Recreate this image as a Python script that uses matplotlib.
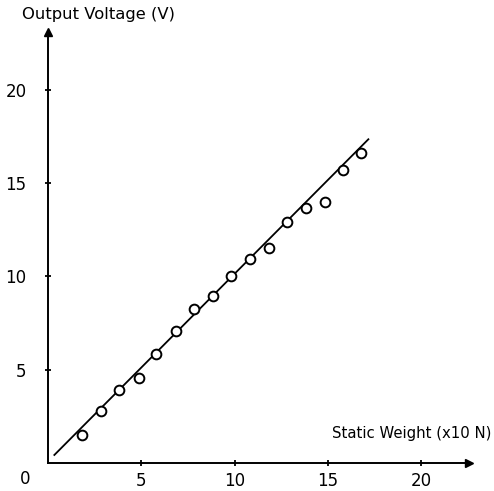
import matplotlib
matplotlib.use('Agg')
import matplotlib.pyplot as plt
import numpy as np

weight = [1.80, 2.82, 3.82, 4.87, 5.78, 6.86, 7.82, 8.85, 9.82, 10.80,
          11.82, 12.82, 13.84, 14.82, 15.78, 16.78]
voltage = [1.50, 2.80, 3.91, 4.54, 5.82, 7.05, 8.26, 8.93, 10.03, 10.94,
           11.53, 12.91, 13.67, 13.96, 15.67, 16.60]

# fitted straight line (end points)
fit_x = [0.34, 17.16]
fit_y = [0.43, 17.34]

ticks = [5, 10, 15, 20]

plt.rcParams['font.family'] = ['DejaVu Sans']

fig = plt.figure(figsize=(4.94, 4.91), dpi=100)
W, H = 494.0, 491.0
x0, y0 = 48, 463
x1, y1 = 469, 31.7
ax = fig.add_axes([x0 / W, (H - y0) / H, (x1 - x0) / W, (y0 - y1) / H])

ax.plot(fit_x, fit_y, color='k', lw=1.3, zorder=2)
ax.plot(weight, voltage, 'o', mfc='white', mec='k', ms=7, mew=1.4, zorder=3)

ax.set_xlim(0, (x1 - x0) / 18.67)
ax.set_ylim(0, (y0 - y1) / 18.67)

for s in ['top', 'right']:
    ax.spines[s].set_visible(False)
for s in ['left', 'bottom']:
    ax.spines[s].set_linewidth(1.4)

ax.set_xticks(ticks)
ax.set_yticks(ticks)
ax.tick_params(direction='inout', length=5, width=1.3, labelsize=12)
ax.tick_params(axis='x', pad=4)
ax.tick_params(axis='y', pad=13)

# arrow heads
ax.plot(1, 0, '>', color='k', ms=6, transform=ax.transAxes, clip_on=False)
ax.plot(0, 1, '^', color='k', ms=6, transform=ax.transAxes, clip_on=False)

ax.text(-1.23, -0.86, '0', fontsize=12, ha='center', va='center')
ax.text(15.2, 1.6, 'Static Weight (x10 N)', fontsize=10.7, ha='left', va='center')
fig.text(22 / W, 1 - 15 / H, 'Output Voltage (V)', fontsize=11.8, ha='left', va='center')

plt.savefig('out.png', dpi=100)
